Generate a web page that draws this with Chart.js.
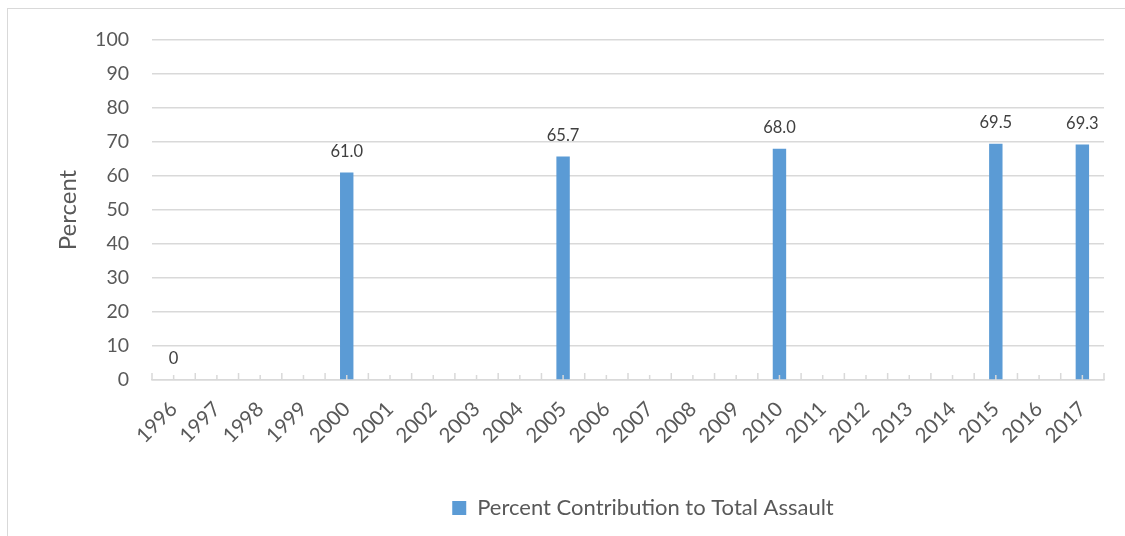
<!DOCTYPE html>
<html>
<head>
<meta charset="utf-8">
<script src="https://cdn.jsdelivr.net/npm/chart.js@4.4.1/dist/chart.umd.min.js"></script>
<style>
  html, body { margin: 0; padding: 0; background: #fff; overflow: hidden; }
  #wrap { position: relative; width: 1125px; height: 536px; }
  #frame { position: absolute; left: 7px; top: 8px; width: 1200px; height: 600px; border: 1.5px solid #d9d9d9; box-sizing: border-box; }
  canvas { position: absolute; left: 0; top: 0; }
</style>
</head>
<body>
<div id="wrap">
  <div id="frame"></div>
  <canvas id="c" width="1125" height="536"></canvas>
</div>
<script>
const categories = ['1996','1997','1998','1999','2000','2001','2002','2003','2004','2005','2006','2007','2008','2009','2010','2011','2012','2013','2014','2015','2016','2017'];
const percentValues = [0, null, null, null, 61.0, null, null, null, null, 65.7, null, null, null, null, 68.0, null, null, null, null, 69.5, null, 69.3];
const seriesName = 'Percent Contribution to Total Assault';
const yTicks = [0, 10, 20, 30, 40, 50, 60, 70, 80, 90, 100];

const FONT = 'Lato, "Open Sans", sans-serif';
const TEXT = '#595959';
const GRID = '#d9d9d9';
const BAR = '#5b9bd5';

const dataLabels = {
  id: 'dataLabels',
  afterDatasetsDraw(chart) {
    const ctx = chart.ctx;
    const meta = chart.getDatasetMeta(0);
    ctx.save();
    ctx.font = '16.5px ' + FONT;
    ctx.fillStyle = '#404040';
    ctx.textAlign = 'center';
    ctx.textBaseline = 'middle';
    meta.data.forEach((el, i) => {
      const v = percentValues[i];
      if (v === null || v === undefined) return;
      const txt = v === 0 ? '0' : v.toFixed(1);
      ctx.fillText(txt, el.x, el.y - 21);
    });
    ctx.restore();
  }
};

const axisTicks = {
  id: 'axisTicks',
  afterDraw(chart) {
    const x = chart.scales.x;
    const ctx = chart.ctx;
    const yb = chart.chartArea.bottom;
    const n = categories.length;
    const half = (x.getPixelForValue(1) - x.getPixelForValue(0)) / 2;
    ctx.save();
    ctx.strokeStyle = GRID;
    ctx.lineWidth = 1.5;
    ctx.beginPath();
    for (let i = 0; i < n; i++) {
      const c = x.getPixelForValue(i);
      ctx.moveTo(c - half, yb);
      ctx.lineTo(c - half, yb - 7);
      ctx.moveTo(c, yb);
      ctx.lineTo(c, yb - 5);
    }
    const last = x.getPixelForValue(n - 1) + half;
    ctx.moveTo(last, yb);
    ctx.lineTo(last, yb - 7);
    ctx.stroke();
    ctx.restore();
  }
};

const legendShift = {
  id: 'legendShift',
  afterLayout(chart) {
    if (chart.legend) {
      chart.legend.left += 15;
      chart.legend.right += 15;
    }
  }
};

new Chart(document.getElementById('c'), {
  type: 'bar',
  data: {
    labels: categories,
    datasets: [{
      label: seriesName,
      data: percentValues,
      backgroundColor: BAR,
      borderWidth: 0,
      categoryPercentage: 1.0,
      barPercentage: 0.31
    }]
  },
  options: {
    responsive: false,
    animation: false,
    events: [],
    layout: { padding: { top: 40, right: 21, left: 0, bottom: 7 } },
    plugins: {
      tooltip: { enabled: false },
      legend: {
        position: 'bottom',
        fullSize: false,
        labels: {
          font: { family: FONT, size: 22 },
          color: TEXT,
          boxWidth: 14,
          boxHeight: 14,
          padding: 10
        }
      }
    },
    scales: {
      x: {
        afterFit(s) { s.height = 107; },
        grid: { display: false },
        border: { display: true, color: GRID, width: 1.5 },
        ticks: {
          color: TEXT,
          font: { family: FONT, size: 20.5 },
          maxRotation: 45,
          minRotation: 45,
          autoSkip: false,
          padding: 9
        }
      },
      y: {
        min: 0,
        max: 100,
        afterFit(s) { s.width = 152; },
        afterBuildTicks(s) { s.ticks = yTicks.map(v => ({ value: v })); },
        border: { display: false },
        grid: { color: GRID, lineWidth: 1.5, drawTicks: false },
        ticks: {
          color: TEXT,
          font: { family: FONT, size: 19.5 },
          padding: 23
        },
        title: {
          display: true,
          text: 'Percent',
          color: TEXT,
          font: { family: FONT, size: 24 },
          padding: { top: 54, bottom: 0 }
        }
      }
    }
  },
  plugins: [dataLabels, axisTicks, legendShift]
});
</script>
</body>
</html>
